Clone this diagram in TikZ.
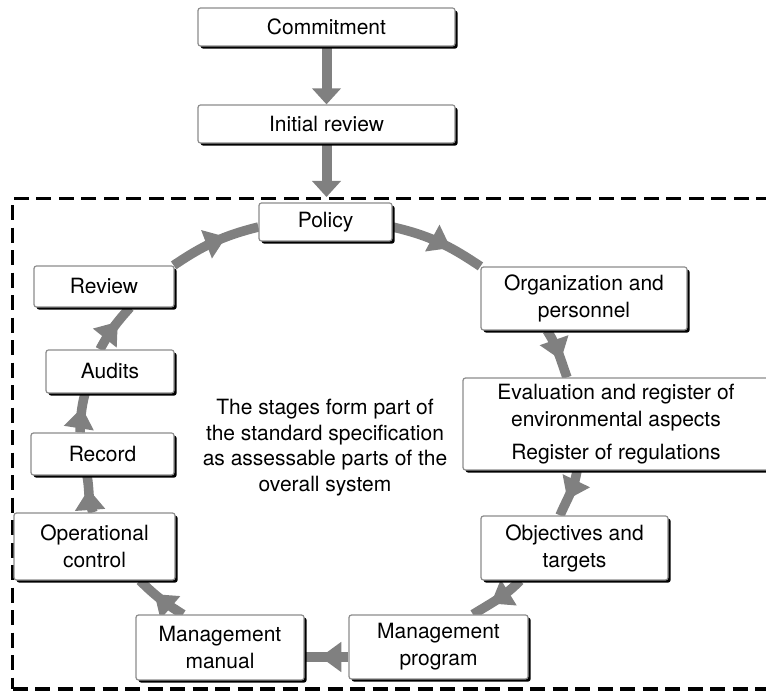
\documentclass[tikz,border=0pt]{standalone}
\usepackage{fontspec}
\setmainfont{TeX Gyre Heros}
\usetikzlibrary{arrows.meta,shadows,decorations.markings}
\pgfdeclarelayer{background}
\pgfsetlayers{background,main}
\definecolor{flowgray}{RGB}{128,128,128}
\definecolor{edgegray}{RGB}{140,140,140}
\tikzset{
  stage/.style={draw=edgegray, line width=1.2pt, fill=white, rounded corners=2.5pt,
    align=center, inner sep=0pt, font=\fontsize{21}{27}\selectfont,
    drop shadow={shadow xshift=2.6pt, shadow yshift=-2.6pt, fill=black, opacity=1}},
  feedarrow/.style={draw=flowgray, line width=10pt, -{Triangle[width=28pt,length=16pt]}},
  loopedge/.style={draw=flowgray, line width=9.5pt, postaction={decorate},
    decoration={markings, mark=at position 0.64 with {\arrow{Triangle[width=29pt,length=21pt]}}}},
  scopeframe/.style={draw=black, line width=3.4pt, dash pattern=on 15pt off 7.5pt, inner sep=0pt}
}
\begin{document}
\begin{tikzpicture}[x=1pt,y=1pt]
\useasboundingbox (0,0) rectangle (766,691);

% entry steps
\node[stage, minimum width=257pt, minimum height=38pt] (commit) at (326.5,664) {Commitment};
\node[stage, minimum width=257pt, minimum height=38pt] (init) at (326.5,567) {Initial review};

% stages of the management system
\node[stage, minimum width=133pt, minimum height=38pt] (policy) at (325.5,469) {Policy};
\node[stage, minimum width=206pt, minimum height=63pt] (org) at (584,392.5) {Organization and\\personnel};
\node[stage, minimum width=306pt, minimum height=92pt] (eval) at (616,267)
  {Evaluation and register of\\environmental aspects\\[6pt]Register of regulations};
\node[stage, minimum width=187pt, minimum height=64pt] (obj) at (574.5,143) {Objectives and\\targets};
\node[stage, minimum width=179pt, minimum height=64pt] (prog) at (438.5,44) {Management\\program};
\node[stage, minimum width=168pt, minimum height=65pt] (manual) at (220,43.5) {Management\\manual};
\node[stage, minimum width=161pt, minimum height=67pt] (opctl) at (94.5,144.5) {Operational\\control};
\node[stage, minimum width=143pt, minimum height=42pt] (record) at (102.5,237) {Record};
\node[stage, minimum width=128pt, minimum height=43pt] (audits) at (110,319.5) {Audits};
\node[stage, minimum width=140pt, minimum height=41pt] (review) at (104,404.5) {Review};

% note in the middle of the cycle
\node[align=center, inner sep=0pt, font=\fontsize{21}{25.5}\selectfont] (note) at (325,243.5)
  {The stages form part of\\the standard specification\\as assessable parts of the\\overall system};

\begin{pgfonlayer}{background}
  % dashed boundary of the system
  \node[scopeframe, anchor=north west, minimum width=764pt, minimum height=490.5pt] (system) at (11,494) {};

  % entry arrows
  \draw[feedarrow] (commit) -- (init);
  \draw[feedarrow] (init) -- (init |- system.north);

  % the cycle of stages
  \draw[loopedge] ([xshift=-1pt]review.north east) to[out=34,in=194] ([yshift=-5pt]policy.west);
  \draw[loopedge] ([yshift=-5pt]policy.east) to[out=-13,in=146] (org.north west);
  \draw[loopedge] ([xshift=-37pt]org.south) to[out=-57,in=110] ([xshift=-49pt]eval.north);
  \draw[loopedge] ([xshift=-39pt]eval.south) to[out=-99,in=67] ([xshift=-14.5pt]obj.north);
  \draw[loopedge] ([xshift=-54.5pt]obj.south) to[out=-134,in=32] ([xshift=34.5pt]prog.north);
  \draw[loopedge] ([yshift=-10pt]prog.west) -- ([yshift=-9.5pt]manual.east);
  \draw[loopedge] ([xshift=-37pt]manual.north) to[out=148,in=-45] ([xshift=45.5pt]opctl.south);
  \draw[loopedge] ([xshift=-1.5pt]opctl.north) to[out=112,in=-79] ([xshift=-15.5pt]record.south);
  \draw[loopedge] ([xshift=-22.5pt]record.north) to[out=87,in=-105] ([xshift=-25pt]audits.south);
  \draw[loopedge] ([xshift=-10pt]audits.north) to[out=62,in=-132] ([xshift=26pt]review.south);
\end{pgfonlayer}
\end{tikzpicture}
\end{document}
